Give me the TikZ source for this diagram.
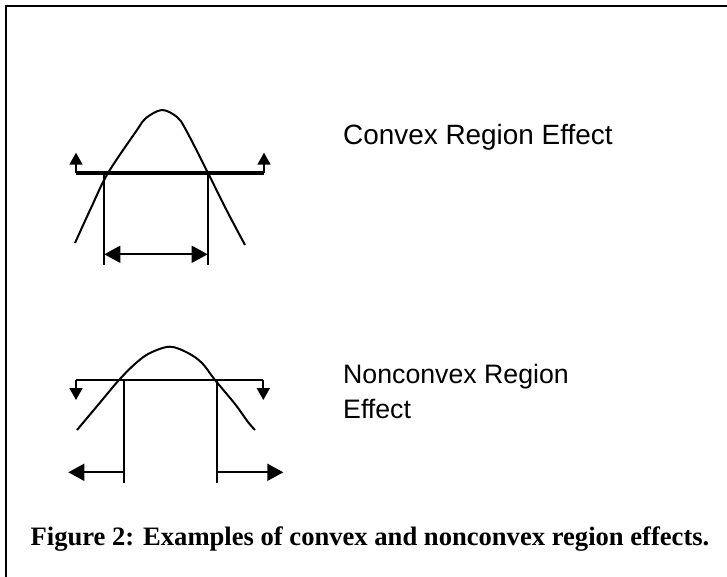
\documentclass[tikz,border=0pt]{standalone}
\usepackage{fontspec}
\setmainfont{Liberation Serif}
\newfontfamily\labelfont{Liberation Sans}
\usetikzlibrary{arrows.meta}

\tikzset{
  frameline/.style = {line width=2.4pt},
  curve/.style = {line width=2pt, line join=round},
  cutline/.style = {line width=4pt},
  thinline/.style = {line width=2.6pt},
  dropline/.style = {line width=1.8pt},
  smalltip/.style = {-{Triangle[length=12pt,width=13pt]}},
  bigtip/.style = {-{Triangle[length=16pt,width=17pt]}},
  bothtips/.style = {{Triangle[length=16pt,width=17pt]}-{Triangle[length=16pt,width=17pt]}},
  effectlabel/.style = {font=\labelfont\fontsize{#1}{35}\selectfont, inner sep=0pt, align=left},
  captionlabel/.style = {font=\bfseries\fontsize{26.6}{30}\selectfont, inner sep=0pt}
}

\begin{document}
\begin{tikzpicture}[x=1pt,y=-1pt]
  \useasboundingbox (0,0) rectangle (727,577);
  % frame, only top and left edges are visible
  \coordinate (FB) at (6,577);
  \coordinate (FC) at (6,6);
  \coordinate (FR) at (727,6);
  \draw[frameline] (FB) -- (FC) -- (FR);

  % convex case
  \coordinate (CL) at (76,172.7);
  \coordinate (CR) at (264,172.7);
  \coordinate (CLup) at (76,152.7);
  \coordinate (CRup) at (264,152.7);
  \coordinate (CA) at (104.3,172.7);
  \coordinate (CB) at (207.7,172.7);
  \coordinate (CAd) at (104.3,265);
  \coordinate (CBd) at (207.7,265);
  \coordinate (CAm) at (104.3,254.3);
  \coordinate (CBm) at (207.7,254.3);
  \draw[curve] plot[smooth, tension=0.55] coordinates
    {(75,243) (91,208) (108,173) (137,130) (146,118) (162,110) (177,117) (186,130) (208,173) (227,211) (245,245)};
  \draw[cutline] (CL) -- (CR);
  \draw[dropline, smalltip] (CL) -- (CLup);
  \draw[dropline, smalltip] (CR) -- (CRup);
  \draw[dropline] (CA) -- (CAd);
  \draw[dropline] (CB) -- (CBd);
  \draw[dropline, bothtips] (CAm) -- (CBm);
  \node[effectlabel=27.9, anchor=base west] (convex) at (343,145) {Convex Region Effect};

  % nonconvex case
  \coordinate (NL) at (76,380);
  \coordinate (NR) at (263.3,380);
  \coordinate (NLdn) at (76,400);
  \coordinate (NRdn) at (263.3,400);
  \coordinate (NA) at (124,380);
  \coordinate (NB) at (216.7,380);
  \coordinate (NAd) at (124,482.7);
  \coordinate (NBd) at (216.7,482.7);
  \coordinate (NAm) at (124,472.3);
  \coordinate (NBm) at (216.7,472.3);
  \coordinate (NAout) at (68.3,472.3);
  \coordinate (NBout) at (283.3,472.3);
  \draw[curve] plot[smooth, tension=0.55] coordinates
    {(77,430) (98,405) (119,380) (136,363) (150,353) (170,346.7) (188,353) (202,363) (215,380) (235,404) (248,422) (255,430)};
  \draw[thinline] (NL) -- (NR);
  \draw[dropline, smalltip] (NL) -- (NLdn);
  \draw[dropline, smalltip] (NR) -- (NRdn);
  \draw[dropline] (NA) -- (NAd);
  \draw[dropline] (NB) -- (NBd);
  \draw[dropline, bigtip] (NAm) -- (NAout);
  \draw[dropline, bigtip] (NBm) -- (NBout);
  \node[effectlabel=26.7, anchor=base west] (nonconvex) at (343,418) {Nonconvex Region\\Effect};

  % caption
  \node[captionlabel, anchor=base] (caption) at (370,545)
    {Figure 2: Examples of convex and nonconvex region effects.};
\end{tikzpicture}
\end{document}
